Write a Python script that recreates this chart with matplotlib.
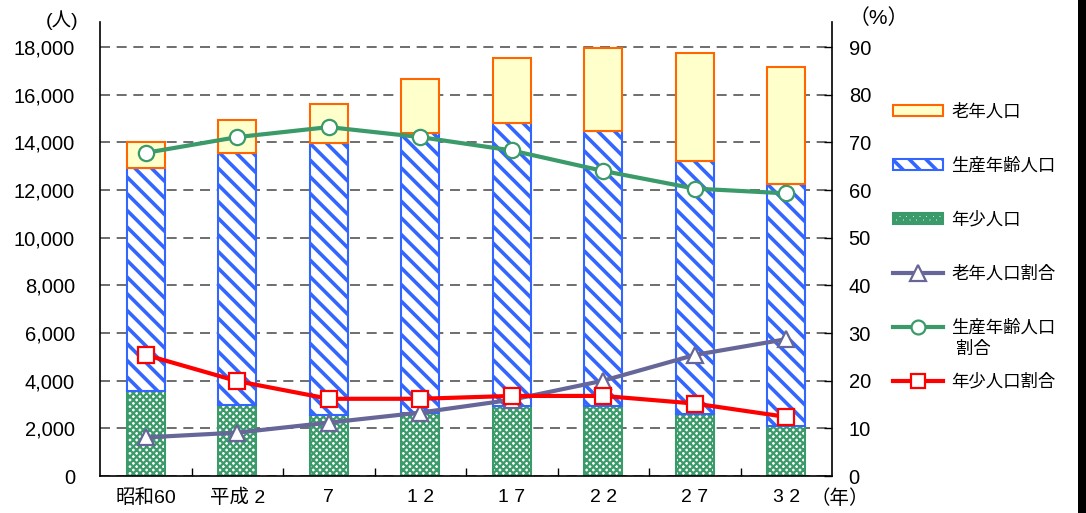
import numpy as np
import matplotlib
matplotlib.use("Agg")
import matplotlib.pyplot as plt
from matplotlib.patches import Patch, Rectangle
from matplotlib.lines import Line2D

plt.rcParams['font.family'] = ['Liberation Sans', 'Noto Sans CJK JP', 'DejaVu Sans']
plt.rcParams['hatch.linewidth'] = 2.6

years = ['昭和60', '平成 2', '7', '1 2', '1 7', '2 2', '2 7', '3 2']
young = [3550, 2980, 2560, 2640, 2940, 2940, 2610, 2100]
working = [9370, 10570, 11410, 11750, 11870, 11540, 10610, 10150]
elderly = [1080, 1380, 1640, 2270, 2730, 3470, 4530, 4910]
elderly_pct = [8.1, 9.1, 11.2, 13.3, 16.0, 20.0, 25.4, 28.7]
working_pct = [67.8, 71.1, 73.2, 71.1, 68.3, 64.0, 60.3, 59.3]
young_pct = [25.4, 19.9, 16.2, 16.2, 16.8, 16.8, 15.2, 12.4]

fig = plt.figure(figsize=(10.86, 5.13), dpi=100)
ax = fig.add_axes([100/1086, 1-476/513, 732/1086, 454/513])
x = np.arange(len(years))
w = 0.42

blue = '#3366ff'
green = '#3a9a6a'
orange = '#ff6600'

with plt.rc_context({'hatch.linewidth': 1.6}):
    ax.bar(x, young, w, color='white', edgecolor=green, hatch='xxxxx', linewidth=1.5, zorder=2)
    green_handle = Patch(facecolor='white', edgecolor=green, hatch='xxxxx', linewidth=1.5)
ax.bar(x, working, w, bottom=young, color='white', edgecolor=blue, hatch='\\\\', linewidth=1.5, zorder=2)
bottom2 = np.array(young) + np.array(working)
ax.bar(x, elderly, w, bottom=bottom2, color='#ffffcc', edgecolor=orange, linewidth=1.5, zorder=2)

ax.set_xlim(-0.5, 7.5)
ax.set_ylim(0, 19050)
ax.set_yticks(range(0, 18001, 2000))
ax.set_yticklabels([f'{v:,}' for v in range(0, 18001, 2000)], fontsize=14.5)
ax.set_xticks(x)
ax.set_xticklabels(years, fontsize=14)
ax.set_xticks(np.arange(0.5, 7, 1), minor=True)
ax.tick_params(axis='x', which='major', length=0, pad=9)
ax.tick_params(axis='x', which='minor', direction='in', length=6, width=1)
ax.tick_params(axis='y', direction='in', length=0, pad=18)
ax.grid(axis='y', color='#555555', linestyle=(0, (6, 4)), linewidth=1.2, zorder=1)
ax.set_axisbelow(True)
ax.spines['top'].set_visible(False)
ax.spines['right'].set_visible(False)
for s in ['left', 'bottom']:
    ax.spines[s].set_linewidth(1.2)

ax2 = ax.twinx()
ax2.set_ylim(0, 95.25)
ax2.set_yticks(range(0, 91, 10))
ax2.tick_params(axis='y', direction='in', length=6, width=1, pad=12, labelsize=14.5)
ax2.spines['top'].set_visible(False)
ax2.spines['right'].set_linewidth(1.2)
ax2.spines['left'].set_visible(False)
ax2.spines['bottom'].set_visible(False)

purple = '#666699'
ax2.plot(x, elderly_pct, color=purple, lw=3, marker='^', markersize=12,
         markerfacecolor='white', markeredgecolor=purple, markeredgewidth=1.6, zorder=3)
ax2.plot(x, working_pct, color=green, lw=3, marker='o', markersize=11,
         markerfacecolor='white', markeredgecolor=green, markeredgewidth=1.6, zorder=3)
ax2.plot(x, young_pct, color='red', lw=3, marker='s', markersize=11,
         markerfacecolor='white', markeredgecolor='red', markeredgewidth=1.6, zorder=4)

fig.text(62/1086, 1-20/513, '(人)', fontsize=14, ha='center', va='center')
fig.text(879/1086, 1-18/513, '（%）', fontsize=15, ha='center', va='center')
fig.text(840/1086, 1-499/513, '（年）', fontsize=14, ha='center', va='center')

handles = [
    Patch(facecolor='#ffffcc', edgecolor=orange, linewidth=1.5),
    Patch(facecolor='white', edgecolor=blue, hatch='\\\\', linewidth=1.5),
    green_handle,
    Line2D([], [], color=purple, lw=3, marker='^', markersize=11, markerfacecolor='white', markeredgewidth=1.6),
    Line2D([], [], color=green, lw=3, marker='o', markersize=10, markerfacecolor='white', markeredgewidth=1.6),
    Line2D([], [], color='red', lw=3, marker='s', markersize=10, markerfacecolor='white', markeredgewidth=1.6),
]
labels = ['老年人口', '生産年齢人口', '年少人口', '老年人口割合', '生産年齢人口', '年少人口割合']
fig.legend(handles, labels, loc='upper left', bbox_to_anchor=(893/1086, 1-103/513),
           frameon=False, fontsize=12.5, handlelength=2.9, handleheight=0.6,
           handletextpad=0.45, labelspacing=2.17, borderpad=0, borderaxespad=0)
fig.text(956/1086, 1-349/513, '割合', fontsize=12.5, ha='left', va='center')

fig.patches.append(Rectangle((1078/1086, 0), 8/1086, 1, transform=fig.transFigure,
                             facecolor='black', edgecolor='none'))

fig.savefig('out.png', dpi=100)
